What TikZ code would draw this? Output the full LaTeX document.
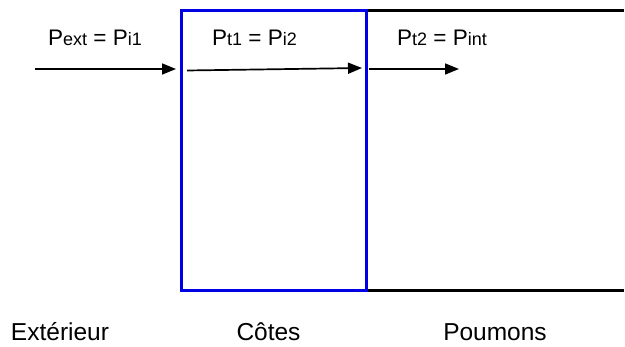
\documentclass[tikz,border=0pt]{standalone}
\usepackage{fontspec}
\setmainfont{Liberation Sans}
\usetikzlibrary{arrows.meta}
\newcommand{\sbs}[1]{{\fontsize{18}{18}\selectfont #1}}
\tikzset{
  lbl/.style={font=\fontsize{22.5}{26}\selectfont, anchor=base west, inner sep=0pt},
  bot/.style={font=\fontsize{24.5}{28}\selectfont, anchor=base, inner sep=0pt},
  arr/.style={line width=1.7pt, -{Triangle[length=14pt,width=11pt]}},
  wall/.style={line width=3pt, blue!90!black},
  lung/.style={line width=3pt, black}
}
\begin{document}
\begin{tikzpicture}[x=1pt,y=-1pt]
\useasboundingbox (0,0) rectangle (625,347);
% coordinates
\coordinate (btl) at (181,11);
\coordinate (bbr) at (366,291);
\coordinate (ltr) at (624,11);
\coordinate (lbr) at (624,291);
\draw[lung] (bbr |- btl) -- (ltr);
\draw[lung] (bbr) -- (lbr);
\draw[wall] (btl) rectangle (bbr);
% arrows
\coordinate (a1s) at (35,69);
\coordinate (a1e) at (176,69);
\coordinate (a2s) at (187,70.5);
\coordinate (a2e) at (362,68);
\coordinate (a3s) at (369,69);
\coordinate (a3e) at (459,69);
\draw[arr] (a1s) -- (a1e);
\draw[arr] (a2s) -- (a2e);
\draw[arr] (a3s) -- (a3e);
% labels
\node[lbl] (l1) at (48,46) {P\sbs{ext} = P\sbs{i1}};
\node[lbl] (l2) at (212,46) {P\sbs{t1} = P\sbs{i2}};
\node[lbl] (l3) at (397,46) {P\sbs{t2} = P\sbs{int}};
\node[bot] (b1) at (60,341) {Extérieur};
\node[bot] (b2) at (268.5,341) {Côtes};
\node[bot] (b3) at (495,341) {Poumons};
\end{tikzpicture}
\end{document}
